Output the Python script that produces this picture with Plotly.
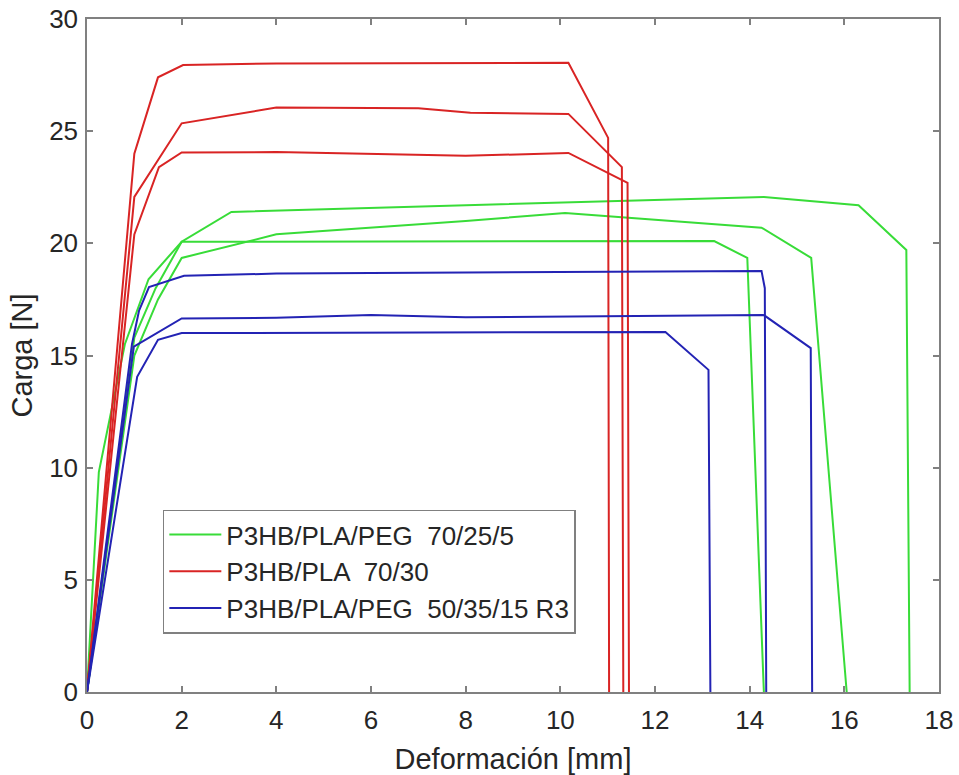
import plotly.graph_objects as go

# Load-displacement curves, three specimens per formulation
# P3HB/PLA/PEG 70/25/5 (green)
g1_x = [0, 0.25, 0.8, 1.3, 2.0, 13.25, 13.95, 14.3]
g1_y = [0, 9.8, 15.5, 18.4, 20.07, 20.1, 19.35, 0]
g2_x = [0, 1.0, 1.45, 2.0, 3.05, 8.0, 14.3, 16.3, 17.31, 17.38]
g2_y = [0, 15.8, 18.0, 20.07, 21.4, 21.7, 22.07, 21.7, 19.7, 0]
g3_x = [0, 1.0, 1.5, 2.0, 4.0, 8.0, 10.1, 14.25, 15.3, 16.05]
g3_y = [0, 15.0, 17.5, 19.35, 20.4, 21.0, 21.35, 20.7, 19.35, 0]

# P3HB/PLA 70/30 (red)
r1_x = [0, 1.0, 1.5, 2.03, 4.0, 10.17, 11.01, 11.03]
r1_y = [0, 24.0, 27.4, 27.95, 28.02, 28.05, 24.7, 0]
r2_x = [0, 1.0, 2.0, 4.0, 7.0, 8.1, 10.17, 11.3, 11.33]
r2_y = [0, 22.07, 25.35, 26.05, 26.02, 25.82, 25.77, 23.4, 0]
r3_x = [0, 1.0, 1.52, 2.0, 4.0, 8.0, 10.17, 11.42, 11.45]
r3_y = [0, 20.4, 23.4, 24.05, 24.07, 23.9, 24.03, 22.7, 0]

# P3HB/PLA/PEG 50/35/15 R3 (blue)
b1_x = [0, 0.95, 1.1, 1.31, 2.05, 4.0, 8.0, 14.25, 14.32, 14.35]
b1_y = [0, 15.5, 17.0, 18.05, 18.55, 18.65, 18.7, 18.77, 18.0, 0]
b2_x = [0, 0.99, 2.0, 4.0, 6.0, 8.0, 14.3, 15.29, 15.32]
b2_y = [0, 15.4, 16.65, 16.68, 16.8, 16.7, 16.8, 15.33, 0]
b3_x = [0, 1.06, 1.5, 2.0, 12.22, 13.13, 13.17]
b3_y = [0, 14.05, 15.7, 16.0, 16.05, 14.36, 0]

groups = [
    ("P3HB/PLA/PEG  70/25/5", "#38dc38", [(g1_x, g1_y), (g2_x, g2_y), (g3_x, g3_y)]),
    ("P3HB/PLA  70/30", "#d92424", [(r1_x, r1_y), (r2_x, r2_y), (r3_x, r3_y)]),
    ("P3HB/PLA/PEG  50/35/15 R3", "#2323b4", [(b1_x, b1_y), (b2_x, b2_y), (b3_x, b3_y)]),
]

fig = go.Figure()
for name, color, curves in groups:
    for i, (xs, ys) in enumerate(curves):
        fig.add_trace(go.Scatter(
            x=xs, y=ys, mode="lines", name=name, legendgroup=name,
            showlegend=(i == 0),
            line=dict(color=color, width=2),
        ))

axis_common = dict(
    showgrid=False, zeroline=False, showline=True, linecolor="#808080",
    linewidth=1.5, mirror="allticks", ticks="inside", ticklen=6,
    tickcolor="#808080", tickwidth=1.5, automargin=False,
    tickfont=dict(family="Liberation Sans, Arial", size=26, color="#262626"),
)

fig.update_layout(
    width=959, height=775,
    margin=dict(l=87, r=20, t=19, b=83),
    plot_bgcolor="white", paper_bgcolor="white",
    font=dict(family="Liberation Sans, Arial", color="#262626"),
    xaxis=dict(range=[0, 18], dtick=2, ticklabelstandoff=4,
               title=dict(text="Deformación [mm]", font=dict(size=29), standoff=17),
               **axis_common),
    yaxis=dict(range=[0, 30], dtick=5, ticklabelstandoff=2,
               title=dict(text="Carga [N]", font=dict(size=29), standoff=8),
               **axis_common),
    legend=dict(
        x=0.089, y=0.271, xanchor="left", yanchor="top",
        bgcolor="white", bordercolor="#808080", borderwidth=1.5,
        font=dict(size=26, color="#262626"),
        itemwidth=52, tracegroupgap=0,
    ),
)

fig.write_html("out.html")
